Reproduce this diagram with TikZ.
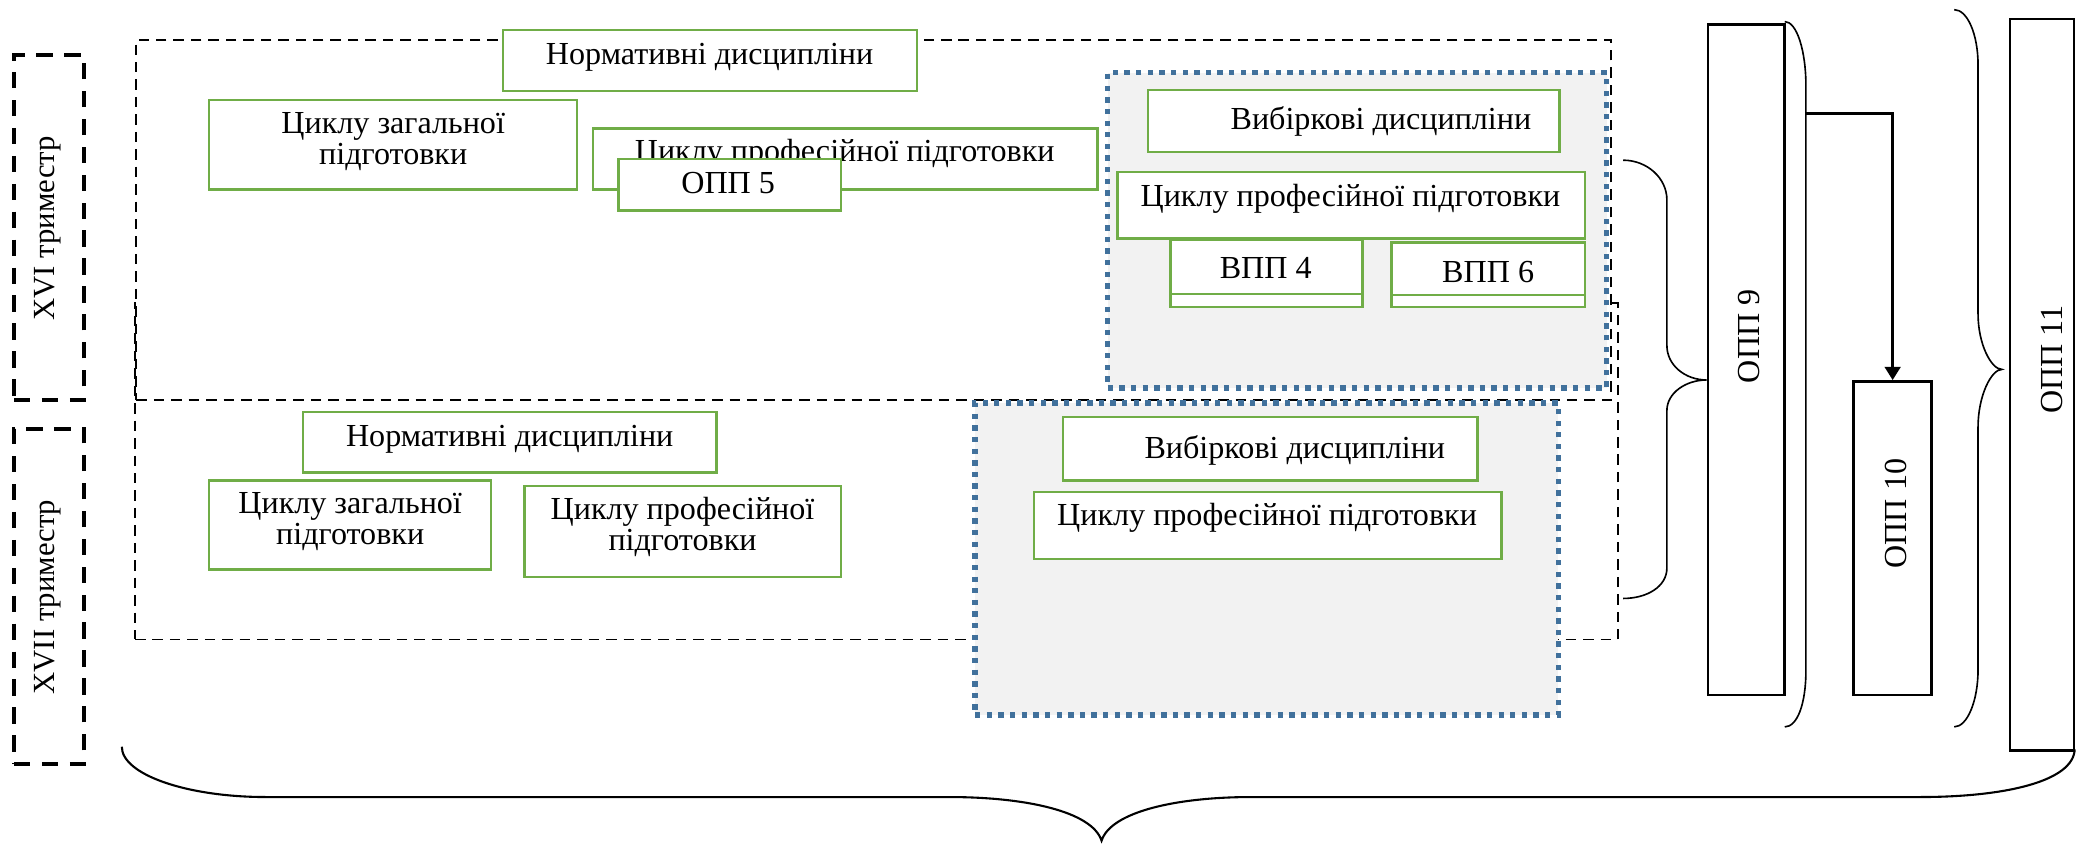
\documentclass[tikz,border=0pt]{standalone}
\usepackage{fontspec}
\setmainfont{Liberation Serif}
\usetikzlibrary{fit,arrows.meta}
\definecolor{grn}{HTML}{70AD47}
\definecolor{blu}{HTML}{41719C}
\definecolor{lgray}{HTML}{F2F2F2}
\begin{document}
\begin{tikzpicture}[x=0.02cm,y=-0.02cm,
  gbox/.style={draw=grn, line width=1.05pt, fill=white, inner sep=0pt},
  bbox/.style={draw=blu, line width=2.3pt, dash pattern=on 2.3pt off 2.7pt, fill=lgray, inner sep=0pt},
  dbox/.style={draw=black, line width=0.85pt, dash pattern=on 4.5pt off 3pt, inner sep=0pt},
  tbox/.style={draw=black, line width=1.7pt, dash pattern=on 7pt off 5pt, inner sep=0pt},
  obox/.style={draw=black, line width=1.1pt, fill=white, inner sep=0pt},
  txt/.style={font=\fontsize{13.8}{13.6}\selectfont, inner sep=0pt, anchor=base},
  vtxt/.style={font=\fontsize{13.8}{13.6}\selectfont, inner sep=0pt, anchor=base, rotate=90},
  stxt/.style={font=\fontsize{13.2}{13.2}\selectfont, inner sep=0pt, anchor=base, rotate=90},
  brc/.style={draw=black, line width=0.7pt},
  bbrc/.style={draw=black, line width=0.9pt},
  arr/.style={draw=black, line width=1pt, -{Triangle[width=0.24cm,length=0.2cm]}},
]
\useasboundingbox (0,0) rectangle (1568,637.5);

% semester frames
\node[dbox, fit={(102,229) (1222,483)}] (semB) {};
\node[dbox, fill=white, fit={(103,30) (1217,302)}] (semA) {};

% elective (blue dotted) areas
\node[bbox, fit={(836.6,55) (1213.5,293)}] (selA) {};
\node[bbox, fit={(736.5,304.5) (1177,540)}] (selB) {};

% semester labels
\node[tbox, fit={(10.6,41.5) (63.6,302)}] (lab16) {};
\node[stxt] (lab16t) at (41.5,172.5) {XVI триместр};
\node[tbox, fit={(10.6,324) (63.6,577)}] (lab17) {};
\node[stxt] (lab17t) at (41.5,451) {XVII триместр};

% upper semester boxes
\node[gbox, fit={(380,22.7) (692.6,68.7)}] (nA) {};
\node[txt] (nAt) at (536,48.8) {Нормативні дисципліни};
\node[gbox, fit={(158,75.5) (436,143)}] (gA) {};
\node[txt] (gAt1) at (297,100.7) {Циклу загальної};
\node[txt] (gAt2) at (297,124.6) {підготовки};
\node[gbox, fit={(448,97) (829,143)}] (pA) {};
\node[txt] (pAt) at (638,122) {Циклу професійної підготовки};
\node[gbox, fit={(467,120) (635,159)}] (o5) {};
\node[txt] (o5t) at (550,146) {ОПП 5};

\node[gbox, fit={(867,68) (1178,115)}] (vA) {};
\node[txt] (vAt) at (1043,98) {Вибіркові дисципліни};
\node[gbox, fit={(844,130) (1197,180)}] (cA) {};
\node[txt] (cAt) at (1020,156) {Циклу професійної підготовки};
\node[gbox, fit={(884,181) (1029,232)}] (v4b) {};
\node[gbox, fit={(884,181) (1029,222)}] (v4) {};
\node[txt] (v4t) at (956,210) {ВПП 4};
\node[gbox, fit={(1051,183) (1197,232)}] (v6b) {};
\node[gbox, fit={(1051,183) (1197,223)}] (v6) {};
\node[txt] (v6t) at (1124,213) {ВПП 6};

% lower semester boxes
\node[gbox, fit={(229,311) (541,357)}] (nB) {};
\node[txt] (nBt) at (385,337.4) {Нормативні дисципліни};
\node[gbox, fit={(158,363) (371,430)}] (gB) {};
\node[txt] (gBt1) at (264.5,387.6) {Циклу загальної};
\node[txt] (gBt2) at (264.5,411) {підготовки};
\node[gbox, fit={(396,367) (635,436)}] (pB) {};
\node[txt] (pBt1) at (515.5,392.7) {Циклу професійної};
\node[txt] (pBt2) at (515.5,415.5) {підготовки};
\node[gbox, fit={(803,315) (1116,363)}] (vB) {};
\node[txt] (vBt) at (978,346) {Вибіркові дисципліни};
\node[gbox, fit={(781,371.5) (1134,422)}] (cB) {};
\node[txt] (cBt) at (957,397) {Циклу професійної підготовки};

% right column
\node[obox, fit={(1290,18.4) (1348,525)}] (opp9) {};
\node[vtxt] (opp9t) at (1328.6,254) {ОПП 9};
\node[obox, fit={(1400,288) (1459,525)}] (opp10) {};
\node[vtxt] (opp10t) at (1439.6,388) {ОПП 10};
\node[obox, fit={(1518,14.3) (1566.5,567)}] (opp11) {};
\node[vtxt] (opp11t) at (1558,271.5) {ОПП 11};

% braces
\draw[brc] (1226,121) .. controls (1244,121) and (1259,134.5) .. (1259,151)
  -- (1259,261) .. controls (1259,276) and (1273,287) .. (opp9.west |- 0,287)
  .. controls (1273,287) and (1259,297) .. (1259,310)
  -- (1259,429) .. controls (1259,443) and (1244,452) .. (1226,452);

\draw[brc] (1348,16.3) .. controls (1357,16.3) and (1364,38) .. (1364,65)
  -- (1364,506) .. controls (1364,533) and (1357,549) .. (1348,549);
\coordinate (b9) at (1364,85.7);
\draw[arr] (b9) -| (opp10.north);

\draw[brc] (1476,7.3) .. controls (1486,7.3) and (1494,26) .. (1494,49)
  -- (1494,237) .. controls (1494,260) and (1504,279) .. (1512,279)
  .. controls (1504,279) and (1494,299) .. (1494,322.6)
  -- (1494,506) .. controls (1494,529) and (1486,549) .. (1476,549);

\draw[bbrc] (92,564) .. controls (92,585) and (141,602) .. (201,602)
  -- (717,602) .. controls (775,602) and (825,613) .. (832,635)
  .. controls (839,613) and (889,602) .. (945,602)
  -- (1450,602) .. controls (1515,602) and (1566,590) .. (1567,566);
\end{tikzpicture}
\end{document}
